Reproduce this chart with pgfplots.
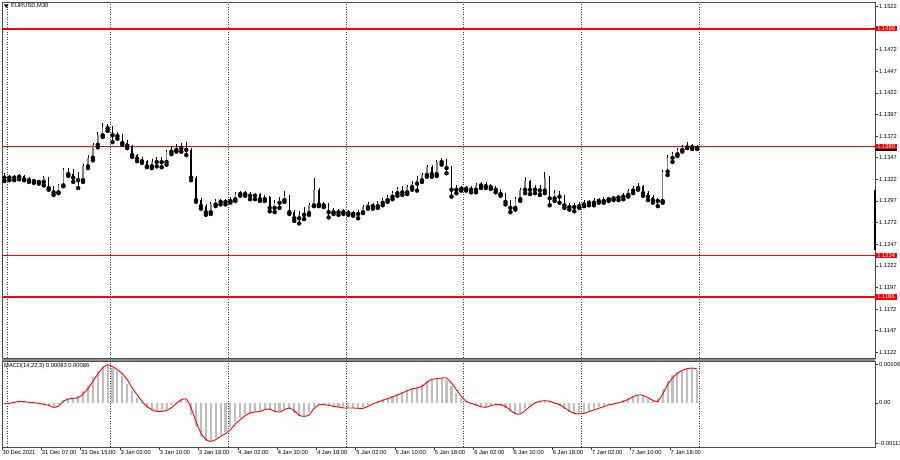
\documentclass[border=0pt]{standalone}
\usepackage{fontspec}
\setmainfont{Liberation Sans}
\usepackage{pgfplots}
\usepackage{pgfplotstable}
\pgfplotsset{compat=1.18}
\newcommand\lbl{\fontsize{5.8}{6.5}\selectfont}

\pgfplotstableread{
i o h l c
0 1.1324 1.1329 1.1320 1.1326
1 1.1326 1.1327 1.1321 1.1324
2 1.1324 1.1327 1.1321 1.1325
3 1.1325 1.1328 1.1322 1.1326
4 1.1326 1.1327 1.1321 1.1322
5 1.1322 1.1325 1.1319 1.1321
6 1.1321 1.1322 1.1318 1.1320
7 1.1320 1.1321 1.1317 1.1319
8 1.1319 1.1326 1.1315 1.1324
9 1.1324 1.1325 1.1310 1.1312
10 1.1312 1.1314 1.1304 1.1307
11 1.1307 1.1317 1.1306 1.1315
12 1.1315 1.1335 1.1314 1.1333
13 1.1333 1.1335 1.1326 1.1328
14 1.1328 1.1334 1.1319 1.1324
15 1.1324 1.1331 1.1312 1.1321
16 1.1321 1.1340 1.1319 1.1337
17 1.1337 1.1350 1.1335 1.1347
18 1.1347 1.1364 1.1344 1.1362
19 1.1362 1.1377 1.1359 1.1373
20 1.1373 1.1387 1.1371 1.1382
21 1.1382 1.1386 1.1378 1.1381
22 1.1381 1.1384 1.1365 1.1373
23 1.1373 1.1377 1.1369 1.1372
24 1.1372 1.1374 1.1362 1.1364
25 1.1364 1.1367 1.1358 1.1361
26 1.1361 1.1362 1.1348 1.1350
27 1.1350 1.1351 1.1343 1.1346
28 1.1346 1.1348 1.1341 1.1343
29 1.1343 1.1344 1.1336 1.1337
30 1.1337 1.1346 1.1335 1.1342
31 1.1342 1.1348 1.1337 1.1344
32 1.1344 1.1348 1.1336 1.1342
33 1.1342 1.1356 1.1339 1.1354
34 1.1354 1.1361 1.1351 1.1356
35 1.1356 1.1363 1.1354 1.1359
36 1.1359 1.1364 1.1354 1.1358
37 1.1358 1.1365 1.1350 1.1356
38 1.1356 1.1358 1.1321 1.1324
39 1.1324 1.1326 1.1296 1.1298
40 1.1298 1.1300 1.1288 1.1291
41 1.1291 1.1293 1.1281 1.1284
42 1.1284 1.1296 1.1282 1.1293
43 1.1293 1.1299 1.1291 1.1297
44 1.1297 1.1299 1.1293 1.1296
45 1.1296 1.1299 1.1293 1.1297
46 1.1297 1.1302 1.1295 1.1299
47 1.1299 1.1307 1.1297 1.1305
48 1.1305 1.1309 1.1303 1.1306
49 1.1306 1.1309 1.1303 1.1305
50 1.1305 1.1307 1.1299 1.1303
51 1.1303 1.1306 1.1299 1.1305
52 1.1305 1.1306 1.1297 1.1299
53 1.1299 1.1304 1.1297 1.1302
54 1.1302 1.1303 1.1285 1.1289
55 1.1289 1.1298 1.1284 1.1295
56 1.1295 1.1302 1.1289 1.1298
57 1.1298 1.1309 1.1296 1.1303
58 1.1303 1.1304 1.1282 1.1284
59 1.1284 1.1287 1.1274 1.1277
60 1.1277 1.1285 1.1271 1.1281
61 1.1281 1.1290 1.1276 1.1283
62 1.1283 1.1295 1.1281 1.1292
63 1.1292 1.1324 1.1291 1.1310
64 1.1310 1.1312 1.1291 1.1293
65 1.1293 1.1296 1.1290 1.1292
66 1.1292 1.1295 1.1278 1.1284
67 1.1284 1.1289 1.1282 1.1287
68 1.1287 1.1288 1.1281 1.1284
69 1.1284 1.1288 1.1282 1.1285
70 1.1285 1.1287 1.1281 1.1283
71 1.1283 1.1285 1.1280 1.1282
72 1.1282 1.1287 1.1277 1.1284
73 1.1284 1.1292 1.1283 1.1290
74 1.1290 1.1296 1.1288 1.1293
75 1.1293 1.1295 1.1288 1.1291
76 1.1291 1.1297 1.1289 1.1295
77 1.1295 1.1300 1.1292 1.1298
78 1.1298 1.1304 1.1296 1.1302
79 1.1302 1.1309 1.1299 1.1306
80 1.1306 1.1313 1.1303 1.1311
81 1.1311 1.1314 1.1304 1.1307
82 1.1307 1.1315 1.1305 1.1313
83 1.1313 1.1320 1.1310 1.1317
84 1.1317 1.1326 1.1309 1.1321
85 1.1321 1.1329 1.1319 1.1327
86 1.1327 1.1339 1.1325 1.1336
87 1.1336 1.1339 1.1325 1.1328
88 1.1328 1.1344 1.1326 1.1342
89 1.1342 1.1347 1.1339 1.1343
90 1.1343 1.1346 1.1329 1.1335
91 1.1335 1.1337 1.1302 1.1310
92 1.1310 1.1315 1.1306 1.1312
93 1.1312 1.1314 1.1309 1.1311
94 1.1311 1.1314 1.1309 1.1312
95 1.1312 1.1314 1.1307 1.1310
96 1.1310 1.1318 1.1307 1.1315
97 1.1315 1.1319 1.1312 1.1317
98 1.1317 1.1319 1.1312 1.1314
99 1.1314 1.1317 1.1311 1.1313
100 1.1313 1.1314 1.1307 1.1310
101 1.1310 1.1311 1.1303 1.1305
102 1.1305 1.1306 1.1293 1.1296
103 1.1296 1.1298 1.1284 1.1289
104 1.1289 1.1302 1.1287 1.1299
105 1.1299 1.1312 1.1297 1.1310
106 1.1310 1.1325 1.1306 1.1320
107 1.1320 1.1321 1.1305 1.1310
108 1.1310 1.1315 1.1306 1.1312
109 1.1312 1.1315 1.1304 1.1309
110 1.1309 1.1331 1.1306 1.1324
111 1.1324 1.1326 1.1292 1.1300
112 1.1300 1.1310 1.1297 1.1306
113 1.1306 1.1309 1.1295 1.1302
114 1.1302 1.1304 1.1289 1.1292
115 1.1292 1.1295 1.1287 1.1290
116 1.1290 1.1295 1.1285 1.1291
117 1.1291 1.1296 1.1289 1.1293
118 1.1293 1.1298 1.1291 1.1296
119 1.1296 1.1298 1.1292 1.1295
120 1.1295 1.1300 1.1292 1.1298
121 1.1298 1.1300 1.1295 1.1297
122 1.1297 1.1302 1.1295 1.1299
123 1.1299 1.1302 1.1297 1.1300
124 1.1300 1.1303 1.1298 1.1301
125 1.1301 1.1304 1.1298 1.1302
126 1.1302 1.1306 1.1299 1.1304
127 1.1304 1.1311 1.1302 1.1309
128 1.1309 1.1314 1.1306 1.1312
129 1.1312 1.1318 1.1310 1.1314
130 1.1314 1.1315 1.1303 1.1306
131 1.1306 1.1309 1.1298 1.1302
132 1.1302 1.1304 1.1295 1.1298
133 1.1298 1.1300 1.1291 1.1297
134 1.1297 1.1333 1.1295 1.1331
135 1.1331 1.1350 1.1327 1.1347
136 1.1347 1.1354 1.1342 1.1351
137 1.1351 1.1358 1.1349 1.1356
138 1.1356 1.1362 1.1354 1.1359
139 1.1359 1.1365 1.1358 1.1362
140 1.1362 1.1363 1.1357 1.1359
141 1.1359 1.1362 1.1357 1.1358
}\candles

\pgfplotstableread{
i hist sig
0 -0.000020 -0.000028
1 0.000005 -0.000009
2 0.000030 0.000019
3 0.000045 0.000042
4 0.000030 0.000038
5 0.000015 0.000019
6 0.000000 0.000009
7 -0.000020 -0.000009
8 -0.000050 -0.000038
9 -0.000090 -0.000066
10 -0.000125 -0.000122
11 -0.000040 -0.000085
12 0.000090 0.000047
13 0.000125 0.000113
14 0.000140 0.000132
15 0.000190 0.000150
16 0.000330 0.000254
17 0.000510 0.000404
18 0.000720 0.000611
19 0.000900 0.000818
20 0.001050 0.000987
21 0.001070 0.001081
22 0.000990 0.001025
23 0.000890 0.000940
24 0.000750 0.000827
25 0.000540 0.000658
26 0.000330 0.000423
27 0.000140 0.000235
28 -0.000030 0.000047
29 -0.000150 -0.000094
30 -0.000215 -0.000188
31 -0.000240 -0.000235
32 -0.000225 -0.000235
33 -0.000175 -0.000207
34 -0.000070 -0.000132
35 0.000040 -0.000009
36 0.000100 0.000085
37 0.000040 0.000113
38 -0.000330 -0.000141
39 -0.000690 -0.000517
40 -0.000950 -0.000846
41 -0.001070 -0.001025
42 -0.001060 -0.001081
43 -0.000990 -0.001034
44 -0.000900 -0.000940
45 -0.000810 -0.000865
46 -0.000670 -0.000752
47 -0.000530 -0.000592
48 -0.000410 -0.000470
49 -0.000320 -0.000357
50 -0.000270 -0.000282
51 -0.000245 -0.000254
52 -0.000210 -0.000235
53 -0.000180 -0.000188
54 -0.000200 -0.000169
55 -0.000250 -0.000235
56 -0.000220 -0.000254
57 -0.000160 -0.000188
58 -0.000170 -0.000141
59 -0.000290 -0.000216
60 -0.000370 -0.000348
61 -0.000360 -0.000376
62 -0.000250 -0.000338
63 -0.000100 -0.000160
64 -0.000050 -0.000056
65 -0.000055 -0.000047
66 -0.000080 -0.000066
67 -0.000105 -0.000094
68 -0.000125 -0.000113
69 -0.000140 -0.000141
70 -0.000140 -0.000141
71 -0.000145 -0.000141
72 -0.000150 -0.000150
73 -0.000125 -0.000150
74 -0.000060 -0.000094
75 0.000000 -0.000028
76 0.000050 0.000028
77 0.000100 0.000075
78 0.000145 0.000122
79 0.000200 0.000169
80 0.000255 0.000226
81 0.000315 0.000282
82 0.000370 0.000348
83 0.000410 0.000395
84 0.000445 0.000423
85 0.000530 0.000470
86 0.000630 0.000583
87 0.000680 0.000667
88 0.000695 0.000686
89 0.000710 0.000705
90 0.000640 0.000705
91 0.000470 0.000564
92 0.000280 0.000376
93 0.000110 0.000188
94 0.000020 0.000047
95 -0.000030 -0.000009
96 -0.000080 -0.000056
97 -0.000115 -0.000103
98 -0.000100 -0.000122
99 -0.000060 -0.000075
100 -0.000045 -0.000047
101 -0.000075 -0.000047
102 -0.000150 -0.000103
103 -0.000250 -0.000197
104 -0.000310 -0.000301
105 -0.000270 -0.000310
106 -0.000150 -0.000216
107 -0.000045 -0.000094
108 0.000025 0.000000
109 0.000060 0.000047
110 0.000060 0.000066
111 0.000025 0.000047
112 -0.000025 0.000000
113 -0.000090 -0.000047
114 -0.000180 -0.000132
115 -0.000260 -0.000226
116 -0.000305 -0.000291
117 -0.000300 -0.000310
118 -0.000270 -0.000291
119 -0.000220 -0.000244
120 -0.000175 -0.000197
121 -0.000125 -0.000150
122 -0.000080 -0.000103
123 -0.000040 -0.000056
124 -0.000010 -0.000028
125 0.000030 0.000009
126 0.000075 0.000047
127 0.000140 0.000103
128 0.000205 0.000179
129 0.000225 0.000226
130 0.000185 0.000216
131 0.000110 0.000150
132 0.000060 0.000075
133 0.000140 0.000047
134 0.000390 0.000254
135 0.000620 0.000517
136 0.000780 0.000705
137 0.000880 0.000837
138 0.000945 0.000921
139 0.000980 0.000968
140 0.000975 0.000987
141 0.000940 0.000959
}\macd

\begin{document}
\begin{tikzpicture}[x=1bp,y=1bp]
\useasboundingbox (0,0) rectangle (900,460);
% separator band between panels
\fill[black!45] (2,99) rectangle (875,102);

\begin{axis}[
  at={(2bp,102bp)}, anchor=south west, scale only axis,
  width=873bp, height=356bp,
  xmin=-0.5, xmax=177.23, ymin=1.11155, ymax=1.1527,
  clip=false,
  axis line style={draw=black!70, line width=0.8bp},
  xtick={0.5,21.5,45.5,69.5,93.5,117.5,141.5}, xticklabels={},
  xtick style={draw=none},
  xmajorgrids,
  major grid style={draw=black!75, line width=0.6bp, dash pattern=on 1bp off 1.5bp},
  ytick={1.1122,1.1147,1.1172,1.1197,1.1222,1.1247,1.1272,1.1297,1.1322,1.1347,1.1372,1.1397,1.1422,1.1447,1.1472,1.1522},
  yticklabels={1.1122,1.1147,1.1172,1.1197,1.1222,1.1247,1.1272,1.1297,1.1322,1.1347,1.1372,1.1397,1.1422,1.1447,1.1472,1.1522},
  ytick pos=right, yticklabel pos=right,
  ytick style={draw=black!80, line width=0.5bp},
  tick align=outside, major tick length=3bp,
  yticklabel style={font=\lbl, anchor=west, inner sep=1bp},
]
% support / resistance lines
\addplot[red, line width=1.5bp] coordinates {(-0.5,1.1496) (177.23,1.1496)};
\addplot[red, line width=1.5bp] coordinates {(-0.5,1.1360) (177.23,1.1360)};
\addplot[red, line width=1.5bp] coordinates {(-0.5,1.1234) (177.23,1.1234)};
\addplot[red, line width=1.5bp] coordinates {(-0.5,1.1186) (177.23,1.1186)};
% wicks
\addplot[only marks, mark=none,
  error bars/.cd, y dir=plus, y explicit,
  error bar style={draw=black, line width=0.6bp}, error mark=none]
  table[x=i, y=l, y error plus expr=\thisrow{h}-\thisrow{l}] {\candles};
% bull bodies
\addplot[only marks, mark=none,
  restrict expr to domain={\thisrow{c}-\thisrow{o}}{0:1},
  error bars/.cd, y dir=plus, y explicit,
  error bar style={draw=black!50, line width=1.6bp}, error mark=none]
  table[x=i, y=o, y error plus expr=\thisrow{c}-\thisrow{o}] {\candles};
% bear bodies
\addplot[only marks, mark=none,
  restrict expr to domain={\thisrow{c}-\thisrow{o}}{-1:-0.00001},
  error bars/.cd, y dir=plus, y explicit,
  error bar style={draw=black, line width=1.6bp}, error mark=none]
  table[x=i, y=c, y error plus expr=\thisrow{o}-\thisrow{c}] {\candles};
% price scale marks
\draw[black, line width=1.6bp] (axis cs:177.23,1.1310) -- (axis cs:177.23,1.1240);
\node[fill=black, minimum width=22bp, minimum height=5.5bp, inner sep=0pt, anchor=west] at (axis cs:177.23,1.13575) {};
\node[fill=red, text=white, font=\lbl, inner xsep=2.2bp, inner ysep=0.6bp, anchor=west] at (axis cs:177.23,1.1496) {1.1496};
\node[fill=red, text=white, font=\lbl, inner xsep=2.2bp, inner ysep=0.6bp, anchor=west] at (axis cs:177.23,1.1360) {1.1360};
\node[fill=red, text=white, font=\lbl, inner xsep=2.2bp, inner ysep=0.6bp, anchor=west] at (axis cs:177.23,1.1234) {1.1234};
\node[fill=red, text=white, font=\lbl, inner xsep=2.2bp, inner ysep=0.6bp, anchor=west] at (axis cs:177.23,1.1186) {1.1186};
\end{axis}

\begin{axis}[
  at={(2bp,13bp)}, anchor=south west, scale only axis,
  width=873bp, height=86bp,
  xmin=-0.5, xmax=177.23, ymin=-0.001241, ymax=0.001185,
  clip=false,
  axis line style={draw=black!70, line width=0.8bp},
  xtick={-0.5,7.5,15.5,23.5,31.5,39.5,47.5,55.5,63.5,71.5,79.5,87.5,95.5,103.5,111.5,119.5,127.5,135.5},
  xticklabels={30 Dec 2021,31 Dec 07:00,31 Dec 15:00,3 Jan 02:00,3 Jan 10:00,3 Jan 18:00,4 Jan 02:00,4 Jan 10:00,4 Jan 18:00,5 Jan 02:00,5 Jan 10:00,5 Jan 18:00,6 Jan 02:00,6 Jan 10:00,6 Jan 18:00,7 Jan 02:00,7 Jan 10:00,7 Jan 18:00},
  xtick pos=left,
  xtick style={draw=black!80, line width=0.5bp},
  xticklabel style={font=\lbl, anchor=north west, inner sep=0.5bp},
  extra x ticks={0.5,21.5,45.5,69.5,93.5,117.5,141.5},
  extra x tick labels={},
  extra x tick style={grid=major, major tick length=0pt},
  major grid style={draw=black!75, line width=0.6bp, dash pattern=on 1bp off 1.5bp},
  ytick={-0.00113,0,0.00109}, yticklabels={-0.00113,0.00,0.00109},
  scaled y ticks=false,
  ytick pos=right, yticklabel pos=right,
  ytick style={draw=black!80, line width=0.5bp},
  tick align=outside, major tick length=3bp,
  yticklabel style={font=\lbl, anchor=west, inner sep=1bp},
]
\addplot[ycomb, no markers, draw=black!25, line width=2.1bp] table[x=i, y=hist] {\macd};
\addplot[red, line width=0.9bp, smooth, tension=0.5, no markers] table[x=i, y=sig] {\macd};
\end{axis}

% titles
\fill[black] (4,455.5) -- (8.5,455.5) -- (6.25,452) -- cycle;
\node[font=\lbl, anchor=west, inner sep=0pt] at (11,454) {EURUSD,M30};
\node[font=\lbl, anchor=west, inner sep=0pt] at (4,94) {MACD(14,22,3) 0.00083 0.00086};
\end{tikzpicture}
\end{document}
